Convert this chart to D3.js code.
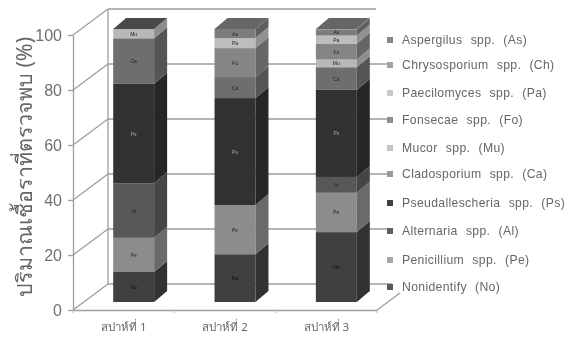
<!DOCTYPE html>
<html lang="en">
<head>
<meta charset="UTF-8">
<title>Fungi by week</title>
<script src="https://d3js.org/d3.v7.min.js"></script>
<style>
    html, body { margin: 0; padding: 0; background: #fff; }
    svg { display: block; }
    text { font-family: "Liberation Sans", Arial, sans-serif; fill: #6a6a6a; }
</style>
</head>
<body>
<svg id="chart" width="571" height="339"></svg>
<script>
    // values, percent of samples per week
    const weeks = ['สปาห์ที่ 1', 'สปาห์ที่ 2', 'สปาห์ที่ 3'];
    const yTicks = [0, 20, 40, 60, 80, 100];
    const yTitle = 'ปริมาณเชื้อราที่ตรวจพบ (%)';

    // bottom to top of the stack
    const codes = ['No', 'Pe', 'Al', 'Ps', 'Ca', 'Mu', 'Fo', 'Pa', 'Ch', 'As'];
    const names = ['Nonidentify (No)', 'Penicillium spp. (Pe)', 'Alternaria spp. (Al)',
        'Pseudallescheria spp. (Ps)', 'Cladosporium spp. (Ca)', 'Mucor spp. (Mu)',
        'Fonsecae spp. (Fo)', 'Paecilomyces spp. (Pa)', 'Chrysosporium spp. (Ch)', 'Aspergilus spp. (As)'];
    const colors = ['#404040', '#8c8c8c', '#595959', '#333333', '#6e6e6e', '#b8b8b8', '#858585', '#bdbdbd', '#9a9a9a', '#7c7c7c'];
    const labelColors = ['#111', '#222', '#222', '#aaa', '#222', '#222', '#222', '#222', '#222', '#222'];

    const No = [11, 17.5, 25.6];
    const Pe = [12.5, 18, 14.4];
    const Al = [20, 0, 5.8];
    const Ps = [36.4, 39.2, 31.9];
    const Ca = [16.7, 7.7, 8.3];
    const Mu = [3.4, 0, 2.8];
    const Fo = [0, 10.6, 5.9];
    const Pa = [0, 3.7, 2.9];
    const Ch = [0, 0, 0];
    const As = [0, 3.3, 2.3];
    const series = [No, Pe, Al, Ps, Ca, Mu, Fo, Pa, Ch, As];

    const svg = d3.select('#chart');

    // the scan is soft, so everything goes through a slight blur
    svg.append('filter').attr('id', 'soft')
        .attr('filterUnits', 'userSpaceOnUse')
        .attr('x', 0).attr('y', 0).attr('width', 571).attr('height', 339)
        .append('feGaussianBlur').attr('stdDeviation', 0.6);
    const g = svg.append('g').attr('filter', 'url(#soft)');

    const x = d3.scaleBand().domain(weeks).range([73, 377]).paddingInner(0.596).paddingOuter(0.298);
    const yFront = d3.scaleLinear().domain([0, 100]).range([310, 35]);
    const yBack = d3.scaleLinear().domain([0, 100]).range([284, 9]);
    const yBar = d3.scaleLinear().domain([0, 100]).range([302, 29]);

    const depth = { x: 35, y: -26 };       // wall depth
    const barShift = 10;                   // bars stand a bit behind the front edge
    const barDepth = { x: 13, y: -11 };
    const wallStroke = '#a39a9a';
    const legendRows = [287, 260, 231, 203, 174, 148, 120, 93, 65, 40];

    // walls and gridlines
    yTicks.forEach(t => {
        g.append('line')
            .attr('x1', 73).attr('y1', yFront(t))
            .attr('x2', 73 + depth.x).attr('y2', yBack(t))
            .attr('stroke', wallStroke).attr('stroke-width', 1.3);
        g.append('line')
            .attr('x1', 73 + depth.x).attr('y1', yBack(t))
            .attr('x2', t === 100 ? 376 : 392).attr('y2', yBack(t))
            .attr('stroke', wallStroke).attr('stroke-width', 1.6);
    });
    g.append('line')
        .attr('x1', 73 + depth.x).attr('y1', yBack(100))
        .attr('x2', 73 + depth.x).attr('y2', yBack(0))
        .attr('stroke', wallStroke).attr('stroke-width', 1.3);
    g.append('line')
        .attr('x1', 377).attr('y1', yFront(0))
        .attr('x2', 400).attr('y2', 293)
        .attr('stroke', wallStroke).attr('stroke-width', 1.3);

    // y axis
    const yAxis = g.append('g')
        .attr('transform', 'translate(73,0)')
        .call(d3.axisLeft(yFront).tickValues(yTicks).tickSize(5).tickSizeOuter(0).tickPadding(6));
    yAxis.selectAll('path, line').attr('stroke', wallStroke).attr('stroke-width', 1.3);
    yAxis.selectAll('text').style('font-size', '16px').style('fill', '#707070');

    // x axis
    const xAxis = g.append('g')
        .attr('transform', 'translate(0,310)')
        .call(d3.axisBottom(x).tickSize(0).tickPadding(13));
    xAxis.selectAll('path').attr('stroke', wallStroke).attr('stroke-width', 1.3);
    xAxis.selectAll('text').style('font-size', '11.5px').style('fill', '#666')
        .style('font-family', '"Noto Sans", "DejaVu Sans", sans-serif');
    g.selectAll('.floorTick').data(d3.range(4)).join('line')
        .attr('class', 'floorTick')
        .attr('x1', i => 73 + i * x.step()).attr('x2', i => 73 + i * x.step())
        .attr('y1', 310).attr('y2', 313)
        .attr('stroke', '#c0baba');

    // stacks
    const stack = d3.stack().keys(d3.range(codes.length)).value((w, k) => series[k][weeks.indexOf(w)]);
    const layers = stack(weeks);

    function shade(c, k) {
        return d3.color(c).darker(k).formatHex();
    }

    layers.forEach((layer, k) => {
        layer.forEach((d, i) => {
            if (d[1] - d[0] <= 0) return;
            const x0 = x(weeks[i]) + barShift;
            const x1 = x0 + x.bandwidth();
            const y0 = yBar(d[0]);
            const y1 = yBar(d[1]);

            g.append('rect')
                .attr('x', x0).attr('y', y1)
                .attr('width', x.bandwidth()).attr('height', y0 - y1)
                .attr('fill', colors[k]);
            // side face
            g.append('path')
                .attr('fill', shade(colors[k], 0.75))
                .attr('d', d3.line()([
                    [x1, y0], [x1 + barDepth.x, y0 + barDepth.y],
                    [x1 + barDepth.x, y1 + barDepth.y], [x1, y1]
                ]) + 'Z');
            g.append('text')
                .attr('x', (x0 + x1) / 2).attr('y', (y0 + y1) / 2 + 2)
                .attr('text-anchor', 'middle')
                .style('font-size', '5px')
                .style('fill', labelColors[k])
                .text(codes[k]);
        });
    });
    // top faces
    weeks.forEach((w, i) => {
        const x0 = x(w) + barShift;
        const x1 = x0 + x.bandwidth();
        const yt = yBar(100);
        g.append('path')
            .attr('fill', i === 0 ? '#4a4a4a' : '#666666')
            .attr('d', d3.line()([
                [x0, yt], [x1, yt],
                [x1 + barDepth.x, yt + barDepth.y], [x0 + barDepth.x, yt + barDepth.y]
            ]) + 'Z');
    });

    // legend
    const legend = g.selectAll('.leg').data(d3.range(codes.length)).join('g')
        .attr('class', 'leg')
        .attr('transform', k => `translate(387,${legendRows[k]})`);
    const legendSwatch = ['#5a5a5a', '#a6a6a6', '#5f5f5f', '#3f3f3f', '#9a9a9a', '#c4c4c4', '#8f8f8f', '#c8c8c8', '#a2a2a2', '#858585'];
    legend.append('rect').attr('x', 0).attr('y', -3).attr('width', 6).attr('height', 6)
        .attr('fill', k => legendSwatch[k]);
    legend.append('text').attr('x', 15).attr('y', 4)
        .style('font-size', '12.2px')
        .style('letter-spacing', '0.35px')
        .style('word-spacing', '4.5px')
        .style('fill', '#666')
        .text(k => names[k]);

    // y title
    g.append('text')
        .attr('transform', 'translate(32,167) rotate(-90)')
        .attr('text-anchor', 'middle')
        .style('font-size', '21.5px')
        .style('font-family', '"Noto Sans", "DejaVu Sans", sans-serif')
        .style('fill', '#666')
        .text(yTitle);
</script>
</body>
</html>
